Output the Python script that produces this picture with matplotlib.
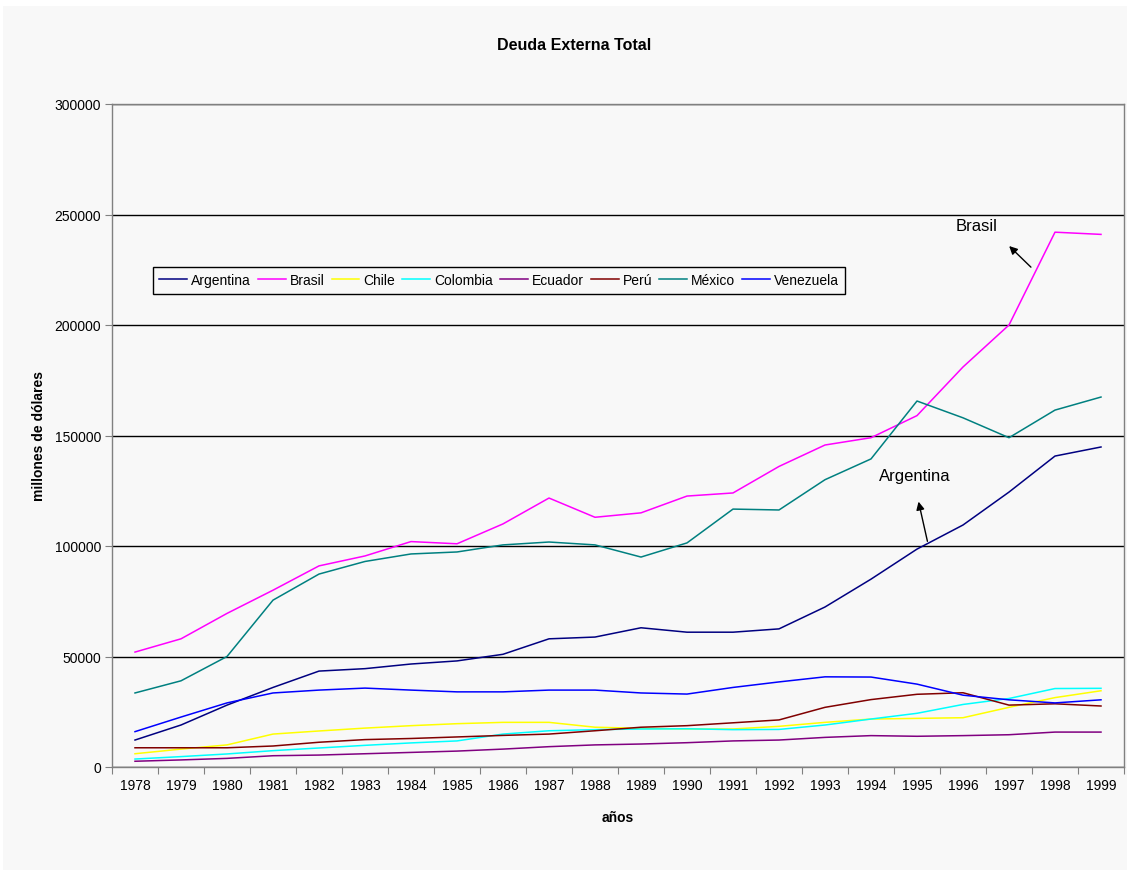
import numpy as np
import matplotlib
matplotlib.use('Agg')
import matplotlib.pyplot as plt
from matplotlib.patches import Rectangle

plt.rcParams['font.family'] = ['Liberation Sans', 'DejaVu Sans']

years = [str(y) for y in range(1978, 2000)]

# millones de dólares
argentina = [12200, 19000, 28000, 36000, 43400, 44500, 46600, 48000, 51000, 58000, 58800,
             63000, 61000, 61000, 62500, 72400, 85000, 98600, 109500, 124400, 140700, 144800]
brasil = [52000, 58000, 69500, 80000, 91000, 95500, 102000, 101000, 110000, 121700, 113000,
          115000, 122600, 124000, 136000, 145700, 149000, 159000, 181000, 200000, 242000, 241000]
chile = [6000, 8100, 10000, 14900, 16300, 17600, 18700, 19600, 20200, 20200, 18000,
         17500, 17200, 17200, 18400, 20200, 21700, 22000, 22300, 27000, 31400, 34500]
colombia = [3600, 4700, 5900, 7400, 8600, 9800, 10900, 11800, 14900, 16400, 16900,
            17200, 17300, 16900, 17000, 19000, 21700, 24300, 28300, 31000, 35500, 35600]
ecuador = [2600, 3200, 3900, 5100, 5400, 6000, 6600, 7200, 8100, 9200, 10000,
           10400, 11000, 11800, 12200, 13400, 14200, 13900, 14200, 14600, 15800, 15800]
peru = [8700, 8700, 8700, 9500, 11200, 12400, 12900, 13600, 14300, 14900, 16400,
        18000, 18700, 20000, 21300, 27000, 30500, 32900, 33600, 28000, 28600, 27600]
mexico = [33500, 39000, 50000, 75500, 87300, 93000, 96400, 97300, 100500, 101800, 100500,
          95000, 101400, 116700, 116300, 130000, 139400, 165600, 158000, 149000, 161500, 167400]
venezuela = [16000, 22600, 29000, 33500, 34800, 35700, 34800, 34000, 34000, 34800, 34800,
             33500, 33000, 36000, 38500, 40800, 40700, 37500, 32500, 30400, 29000, 30400]

series = [('Argentina', argentina, '#000080'),
          ('Brasil', brasil, '#ff00ff'),
          ('Chile', chile, '#ffff00'),
          ('Colombia', colombia, '#00ffff'),
          ('Ecuador', ecuador, '#800080'),
          ('Perú', peru, '#800000'),
          ('México', mexico, '#008080'),
          ('Venezuela', venezuela, '#0000ff')]

bg = '#f8f8f8'
fig = plt.figure(figsize=(11.31, 8.78), dpi=100, facecolor='white')
fig.patches.append(Rectangle((3 / 1131, 7 / 878), 1124 / 1131, 864 / 878,
                             transform=fig.transFigure, facecolor=bg, edgecolor='none', zorder=-10))

ax = fig.add_axes([112 / 1131, 110 / 878, 1012 / 1131, 663 / 878])
ax.set_facecolor(bg)

x = np.arange(len(years))
for name, vals, col in series:
    ax.plot(x, vals, color=col, lw=1.1, label=name, zorder=3)

ax.set_xlim(-0.5, len(years) - 0.5)
ax.set_ylim(0, 300000)
ax.set_yticks(np.arange(0, 300001, 50000))
ax.yaxis.grid(True, color='black', lw=1)
ax.set_axisbelow(True)

ax.set_xticks(np.arange(-0.5, len(years), 1))
ax.set_xticklabels([])
ax.set_xticks(x, minor=True)
ax.set_xticklabels(years, minor=True)
ax.tick_params(axis='x', which='major', length=5, color='#808080', direction='out')
ax.tick_params(axis='x', which='minor', length=0, labelsize=10, pad=8)
ax.tick_params(axis='y', length=5, color='#808080', labelsize=10, pad=3)

for s in ax.spines.values():
    s.set_color('#808080')
    s.set_linewidth(1)

fig.text(574 / 1131, 1 - 46 / 878, 'Deuda Externa Total', fontsize=11.5, fontweight='bold',
         ha='center', va='center')
ax.set_xlabel('años', fontsize=10, fontweight='bold', labelpad=13)
ax.set_ylabel('millones de dólares', fontsize=10, fontweight='bold', labelpad=6)

leg = ax.legend(ncol=8, loc='upper left', bbox_to_anchor=(0.0405, 0.754), fontsize=10,
                frameon=True, fancybox=False, edgecolor='black', facecolor=bg, framealpha=1,
                handlelength=2.0, handletextpad=0.3, columnspacing=0.5, borderpad=0.45,
                borderaxespad=0)
leg.get_frame().set_linewidth(1)

ax.text(18.3, 244800, 'Brasil', fontsize=12, ha='center', va='center')
ax.annotate('', xy=(18.96, 236600), xytext=(19.52, 225300),
            arrowprops=dict(arrowstyle='-|>', color='black', lw=1, mutation_scale=12))
ax.text(16.96, 132000, 'Argentina', fontsize=12, ha='center', va='center')
ax.annotate('', xy=(17.02, 121300), xytext=(17.24, 100900),
            arrowprops=dict(arrowstyle='-|>', color='black', lw=1, mutation_scale=12))

fig.savefig('out.png', dpi=100, facecolor='white')
